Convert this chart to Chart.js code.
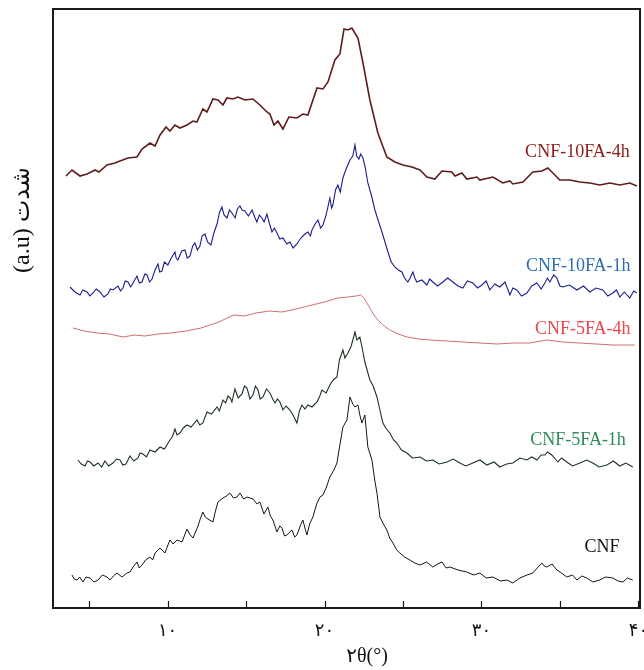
<!DOCTYPE html>
<html>
<head>
    <title>XRD patterns</title>
    <script src="https://cdn.jsdelivr.net/npm/chart.js"></script>
    <style>
        body { margin: 0; background: #fff; }
        .wrap { width: 644px; height: 670px; position: relative; }
    </style>
</head>
<body>
    <div class="wrap"><canvas id="xrd"></canvas></div>

    <script>
        // x = 2θ (deg), y = intensity (a.u., stacked with offsets as in the figure)
        const cnf10h4X = [3.53,3.91,4.42,4.87,5.38,5.63,6.14,6.65,6.97,7.48,8.05,8.37,8.88,9.20,9.52,9.90,10.15,10.47,10.79,11.24,11.62,11.87,12.25,12.51,12.89,13.21,13.53,13.78,14.16,14.48,14.93,15.44,15.88,16.33,16.52,16.78,17.03,17.35,17.73,18.24,18.62,18.94,19.52,19.90,20.22,20.66,20.98,21.24,21.49,21.74,22.13,22.45,22.89,23.40,23.97,24.48,24.99,25.57,26.08,26.52,27.03,27.48,28.11,28.31,28.75,29.07,29.71,29.90,30.73,31.36,31.81,32.00,32.64,33.27,33.85,34.23,34.55,34.99,35.63,36.27,36.90,37.54,38.18,38.81,39.45,39.90];
        const cnf10h4Y = [432,438,432,434,438,436,443,445,447,450,451,459,465,462,473,481,477,483,480,483,487,486,499,496,509,508,503,510,509,511,508,509,503,496,494,483,487,479,491,490,494,493,520,519,526,548,554,579,578,580,570,545,508,475,451,446,443,441,438,431,429,437,436,432,435,429,431,428,431,425,427,424,426,436,437,440,435,428,428,426,425,423,425,423,425,422];

        const cnf10h1X = [3.78,4.1,4.42,4.6,4.87,5.05,5.25,5.45,5.69,5.95,6.2,6.35,6.52,6.84,7.0,7.16,7.3,7.48,7.65,7.8,8.05,8.2,8.37,8.55,8.69,8.85,9.01,9.2,9.39,9.5,9.64,9.8,10.02,10.2,10.47,10.55,10.66,10.9,11.11,11.25,11.43,11.6,11.74,11.9,12.06,12.2,12.38,12.55,12.76,12.95,13.15,13.3,13.46,13.6,13.78,13.95,14.1,14.3,14.45,14.61,14.75,14.93,15.15,15.38,15.55,15.69,15.85,16.01,16.15,16.33,16.5,16.65,16.8,16.97,17.15,17.35,17.6,17.8,18.0,18.24,18.4,18.56,18.75,18.94,19.1,19.2,19.4,19.58,19.75,19.9,20.1,20.34,20.45,20.53,20.7,20.85,21.0,21.17,21.4,21.62,21.8,21.94,22.05,22.19,22.3,22.45,22.6,22.76,23.0,23.21,23.45,23.66,23.85,24.04,24.25,24.48,24.7,24.93,25.1,25.31,25.45,25.63,25.75,25.88,26.2,26.52,26.7,26.9,27.2,27.54,27.85,28.18,28.5,28.81,29.1,29.45,29.75,30.02,30.3,30.53,30.85,31.17,31.5,31.81,32.0,32.25,32.55,32.89,33.2,33.53,33.8,34.04,34.2,34.36,34.6,34.8,35.0,35.18,35.6,36.08,36.5,36.9,37.3,37.73,38.05,38.37,38.6,38.81,39.1,39.45,39.7,39.9];
        const cnf10h1Y = [321,316,313,318,316,312,315,319,316,311,314,319,318,322,317,320,327,326,321,325,332,325,326,334,333,326,329,338,344,336,337,346,343,349,356,350,348,357,358,350,352,362,365,358,362,372,374,366,363,375,384,395,401,393,390,398,395,390,399,402,398,397,392,398,391,386,393,390,386,394,384,376,380,375,369,370,364,366,360,364,368,371,374,376,372,378,384,388,380,383,393,410,400,403,418,423,416,430,440,448,452,463,452,449,454,450,440,425,412,398,386,376,366,356,346,341,338,336,330,326,330,336,330,326,328,323,329,326,322,326,330,326,322,320,327,325,320,323,327,318,324,321,326,313,320,318,312,315,322,325,319,325,330,326,333,330,322,321,323,318,322,316,320,318,312,315,318,311,316,310,317,315];

        const cnf5h4X = [3.97,4.7,5.5,6.3,7.16,7.9,8.56,9.4,10.22,11.2,12.13,12.7,13.27,13.8,14.23,14.9,15.63,16.5,17.29,18.2,19.2,20.0,20.85,21.5,22.0,22.3,22.51,22.89,23.15,23.4,23.8,24.16,24.7,25.25,26.0,26.71,27.8,28.81,29.9,30.98,32.0,33.08,34.16,35.2,36.27,37.3,38.37,39.77];
        const cnf5h4Y = [280,277,275,274,271,273,272,274,275,277,280,283,286,290,293,292,295,297,296,299,303,306,310,311,312,313,310,300,293,288,282,278,274,271,269,268,267,266,265,264,265,265,268,266,265,264,263,263];

        const cnf5h1X = [4.29,4.5,4.74,4.9,5.06,5.3,5.57,5.8,6.01,6.25,6.52,6.75,6.97,7.15,7.35,7.6,7.85,8.11,8.25,8.43,8.65,8.88,9.2,9.52,9.8,10.15,10.3,10.47,10.6,10.79,11.0,11.24,11.5,11.87,12.05,12.25,12.51,12.8,13.15,13.3,13.53,13.7,13.85,14.0,14.1,14.29,14.5,14.74,14.9,15.06,15.25,15.44,15.6,15.76,15.9,16.08,16.3,16.52,16.7,16.84,17.0,17.16,17.35,17.55,17.8,17.99,18.24,18.4,18.56,18.75,18.94,19.2,19.52,19.7,19.83,20.1,20.34,20.55,20.79,20.95,21.17,21.3,21.49,21.7,21.94,22.06,22.25,22.4,22.57,22.89,23.1,23.34,23.5,23.72,23.9,24.16,24.4,24.61,24.9,25.25,25.6,26.08,26.5,26.9,27.3,27.8,28.2,28.62,29.0,29.45,29.9,30.34,30.8,31.17,31.6,32.0,32.45,32.89,33.2,33.53,33.8,34.04,34.2,34.48,34.7,34.87,35.1,35.44,35.8,36.27,36.7,37.09,37.5,37.99,38.4,38.81,39.2,39.64];
        const cnf5h1Y = [148,144,142,147,146,142,145,141,147,142,145,149,148,143,144,152,147,150,155,154,151,158,156,161,159,168,171,179,173,175,180,183,181,188,183,185,196,194,201,197,208,205,212,210,206,219,210,214,222,220,209,213,222,218,209,211,219,215,209,205,209,206,198,202,198,193,185,197,203,199,203,201,206,212,218,215,223,228,231,248,258,250,255,262,276,268,271,260,246,228,222,211,200,185,180,175,168,165,158,155,150,151,147,148,144,146,149,145,142,145,148,143,146,141,144,145,150,148,151,148,153,153,156,153,149,146,150,146,142,145,148,145,141,143,147,142,145,141];

        const cnfX = [3.91,4.05,4.23,4.4,4.61,4.8,5.06,5.3,5.57,5.85,6.14,6.33,6.55,6.78,7.1,7.41,7.6,7.8,8.05,8.2,8.37,8.6,8.88,9.05,9.2,9.52,9.83,10.0,10.15,10.35,10.6,10.92,11.24,11.4,11.62,11.94,12.1,12.25,12.4,12.57,12.89,13.05,13.21,13.53,13.75,13.97,14.2,14.42,14.61,14.85,15.06,15.44,15.7,15.88,16.14,16.39,16.55,16.71,16.97,17.15,17.29,17.45,17.6,17.92,18.1,18.24,18.45,18.62,18.75,18.88,19.05,19.26,19.5,19.71,19.9,20.1,20.34,20.6,20.79,21.0,21.17,21.43,21.62,21.8,21.94,22.13,22.25,22.38,22.57,22.76,23.02,23.2,23.34,23.53,23.75,23.97,24.15,24.36,24.6,24.8,25.1,25.44,25.75,26.08,26.5,26.9,27.2,27.48,27.75,27.99,28.5,29.07,29.5,29.9,30.3,30.73,31.2,31.62,32.0,32.45,32.9,33.27,33.55,33.85,34.0,34.16,34.5,34.8,35.1,35.44,35.8,36.08,36.4,36.71,37.1,37.54,37.9,38.37,38.7,39.01,39.3,39.64];
        const cnfY = [33,29,28,31,26,31,30,26,28,33,31,28,32,35,31,35,36,41,46,40,43,48,51,48,55,60,55,62,68,64,68,66,79,74,70,82,90,96,91,89,86,97,106,110,112,115,110,111,115,109,111,109,104,106,94,101,92,88,76,82,80,72,73,78,71,73,82,88,80,73,84,91,104,111,113,120,131,138,145,165,181,188,211,204,201,203,193,185,193,161,148,128,115,91,84,78,70,65,58,55,51,48,45,43,46,41,44,46,40,41,38,36,33,35,30,31,27,28,25,30,33,35,40,45,42,41,44,38,35,31,33,28,32,30,26,28,31,30,27,26,30,28];

        const seriesNames = ['CNF-10FA-4h', 'CNF-10FA-1h', 'CNF-5FA-4h', 'CNF-5FA-1h', 'CNF'];
        const lineColors = ['#5e1c1c', '#1c1c8e', '#c24a4a', '#1d3320', '#151515'];
        const lineWidths = [1.6, 1.1, 0.8, 1.1, 1.0];
        const labelColors = ['#8b1a1a', '#2f6db3', '#e8474c', '#2e8b57', '#111111'];
        // label anchor (right edge) in data units
        const labelX = [39.45, 39.5, 39.5, 39.2, 38.8];
        const labelY = [456, 342, 279, 168, 61];

        const xTickValues = [5, 10, 15, 20, 25, 30, 35, 40];
        const xTickLabels = ['', '۱۰', '', '۲۰', '', '۳۰', '', '۴۰'];

        const xs = [cnf10h4X, cnf10h1X, cnf5h4X, cnf5h1X, cnfX];
        const ys = [cnf10h4Y, cnf10h1Y, cnf5h4Y, cnf5h1Y, cnfY];

        const datasets = seriesNames.map((name, i) => ({
            label: name,
            data: xs[i].map((x, j) => ({ x: x, y: ys[i][j] })),
            borderColor: lineColors[i],
            borderWidth: lineWidths[i],
            pointRadius: 0,
            tension: 0,
            fill: false
        }));

        const decor = {
            id: 'decor',
            afterDraw(chart) {
                const { ctx, chartArea: a, scales } = chart;
                const x = scales.x, y = scales.y;
                ctx.save();
                // frame
                ctx.strokeStyle = '#1a1a1a';
                ctx.lineWidth = 2;
                ctx.strokeRect(a.left, a.top, a.right - a.left, a.bottom - a.top);
                // inward tick marks
                ctx.lineWidth = 1.2;
                xTickValues.forEach(v => {
                    const px = Math.round(x.getPixelForValue(v)) + 0.5;
                    ctx.beginPath();
                    ctx.moveTo(px, a.bottom);
                    ctx.lineTo(px, a.bottom - 7);
                    ctx.stroke();
                });
                // series labels
                ctx.font = '18px "Liberation Serif", "Times New Roman", serif';
                ctx.textAlign = 'right';
                ctx.textBaseline = 'middle';
                seriesNames.forEach((name, i) => {
                    ctx.fillStyle = labelColors[i];
                    ctx.fillText(name, x.getPixelForValue(labelX[i]), y.getPixelForValue(labelY[i]));
                });
                // axis titles
                ctx.fillStyle = '#111';
                ctx.textAlign = 'center';
                ctx.font = '20px "Liberation Serif", "DejaVu Sans", serif';
                ctx.fillText('۲θ(°)', 367, 657);
                ctx.translate(23, 220);
                ctx.rotate(-Math.PI / 2);
                ctx.font = '24px "Liberation Serif", "DejaVu Sans", serif';
                ctx.fillText('(a.u) شدت', 0, 0);
                ctx.restore();
            }
        };

        new Chart(document.getElementById('xrd'), {
            type: 'line',
            data: { datasets },
            options: {
                responsive: true,
                maintainAspectRatio: false,
                animation: false,
                layout: { padding: { top: 9, right: 4, left: 0, bottom: 0 } },
                plugins: { legend: { display: false }, tooltip: { enabled: false } },
                scales: {
                    x: {
                        type: 'linear',
                        min: 2.7,
                        max: 40.1,
                        grid: { display: false, drawTicks: false },
                        border: { display: false },
                        afterBuildTicks: s => { s.ticks = xTickValues.map(v => ({ value: v })); },
                        afterFit: s => { s.height = 62; s.paddingLeft = 0; s.paddingRight = 0; },
                        ticks: {
                            autoSkip: false,
                            maxRotation: 0,
                            padding: 12,
                            color: '#111',
                            font: { size: 18, family: '"Liberation Serif", "DejaVu Sans", serif' },
                            callback: (v, i) => xTickLabels[i]
                        }
                    },
                    y: {
                        type: 'linear',
                        min: 0,
                        max: 599,
                        grid: { display: false, drawTicks: false },
                        border: { display: false },
                        ticks: { display: false },
                        afterFit: s => { s.width = 53; s.paddingTop = 0; s.paddingBottom = 0; }
                    }
                }
            },
            plugins: [decor]
        });
    </script>
</body>
</html>
